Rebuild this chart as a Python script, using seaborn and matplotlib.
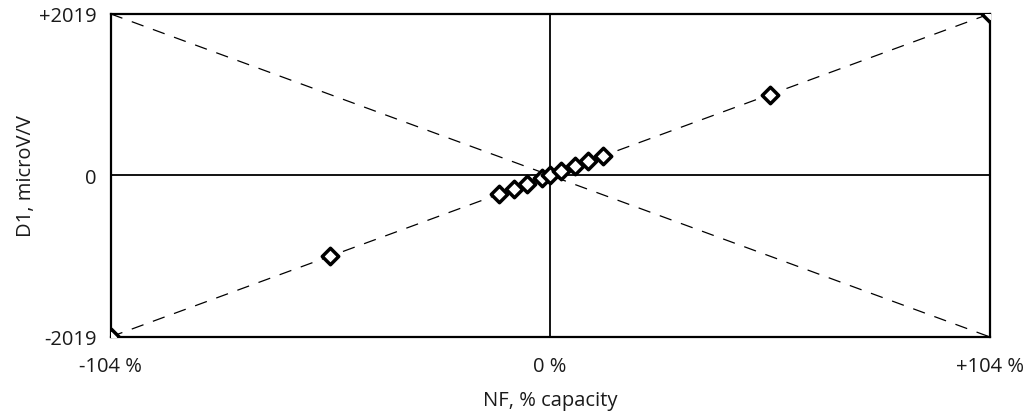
import matplotlib
matplotlib.use("Agg")
import matplotlib.pyplot as plt
import seaborn as sns
import pandas as pd

sns.set_theme(style="white")
plt.rcParams['font.family'] = ['Open Sans', 'DejaVu Sans']

# load points, % capacity
nf_pct = [-104, -52, -12, -8.5, -5.5, -2, 0, 2.5, 6, 9, 12.5, 52, 104]
# D1 readings, microV/V
d1_uv = [-2019, -1010, -233, -165, -107, -39, 0, 49, 116, 175, 243, 1010, 2019]

x_limit = [-104, 104]
y_limit = [-2019, 2019]
x_tick_labels = ['-104 %', '0 %', '+104 %']
y_tick_labels = ['-2019', '0', '+2019']

df = pd.DataFrame({'NF': nf_pct, 'D1': d1_uv})

fig = plt.figure(figsize=(10.34, 4.14), dpi=100)
ax = fig.add_axes([0.107, 0.184, 0.85, 0.78])

# diagonal reference lines
sns.lineplot(x=x_limit, y=y_limit, ax=ax, color='black', lw=0.9,
             linestyle=(0, (10, 8)))
sns.lineplot(x=x_limit, y=y_limit[::-1], ax=ax, color='black', lw=0.9,
             linestyle=(0, (10, 8)))
ax.axhline(0, color='black', lw=1.3)
ax.axvline(0, color='black', lw=1.3)

sns.scatterplot(x='NF', y='D1', data=df, ax=ax, marker='D', s=70,
                facecolor='white', edgecolor='black', linewidth=2.5, zorder=5)

ax.set_xlim(x_limit)
ax.set_ylim(y_limit)
ax.set_xticks([x_limit[0], 0, x_limit[1]])
ax.set_xticklabels(x_tick_labels)
ax.set_yticks([y_limit[0], 0, y_limit[1]])
ax.set_yticklabels(y_tick_labels)
ax.tick_params(axis='y', length=0, labelsize=14.5, colors='#1a1a1a', pad=10)
ax.tick_params(axis='x', length=0, labelsize=14.5, colors='#1a1a1a', pad=14)
for s in ax.spines.values():
    s.set_color('black')
    s.set_linewidth(1.6)

ax.set_xlabel('NF, % capacity', fontsize=14.5, color='#1a1a1a', labelpad=10)
ax.set_ylabel('D1, microV/V', fontsize=14.5, color='#1a1a1a', labelpad=2)

fig.savefig('out.png', dpi=100)
